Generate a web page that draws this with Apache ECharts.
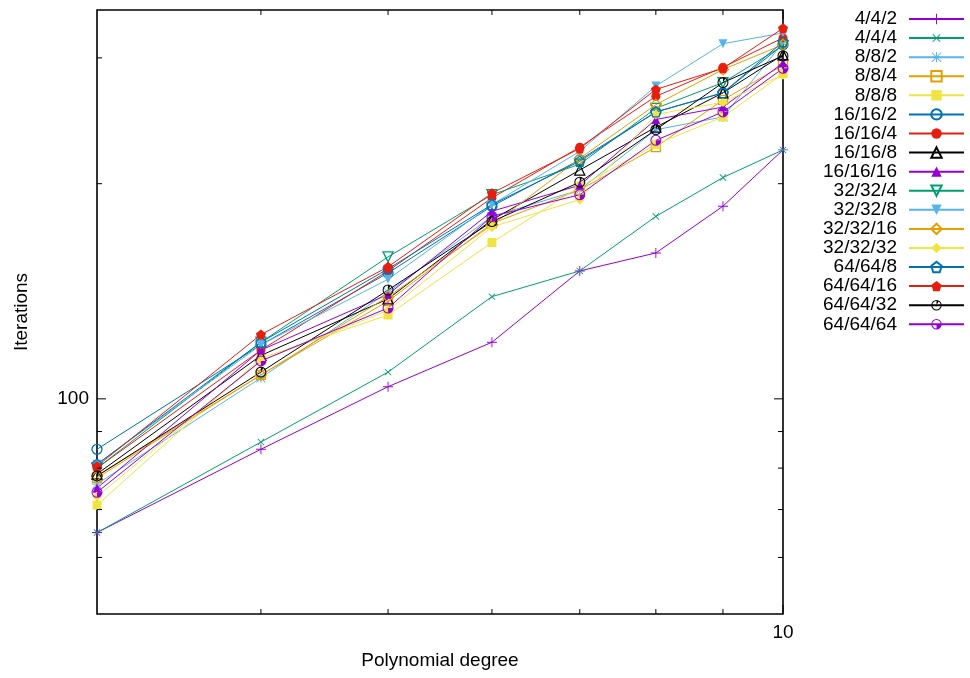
<!DOCTYPE html>
<html>
<head>
<meta charset="utf-8">
<script src="https://cdn.jsdelivr.net/npm/echarts@6/dist/echarts.min.js"></script>
<style>
  html, body { margin: 0; padding: 0; background: #fff; }
  #chart { width: 970px; height: 678px; }
</style>
</head>
<body>
<div id="chart"></div>
<script>
// Polynomial degree on the x axis, iteration counts per configuration
const degrees = [3, 4, 5, 6, 7, 8, 9, 10];

const it_4_4_2    = [65, 85, 104, 120, 151, 160, 186, 223];
const it_4_4_4    = [65, 87, 109, 139, 151, 180, 204, 223];
const it_8_8_2    = [76, 107, 141, 180, 196, 238, 248, 315];
const it_8_8_4    = [77.5, 108, 137, 176, 196, 225, 262, 293];
const it_8_8_8    = [71, 114, 131, 165.5, 198, 227, 248, 285];
const it_16_16_2  = [85, 119, 150, 186, 216, 252, 268, 313];
const it_16_16_4  = [80, 117, 151, 191, 225, 265, 291, 320];
const it_16_16_8  = [78.5, 115, 138, 178, 209, 240, 268, 303];
const it_16_16_16 = [75, 117, 140, 183, 199, 246, 256, 295];
const it_32_32_4  = [80, 120, 158, 193, 213, 255, 277, 312];
const it_32_32_8  = [81, 119, 147, 187, 222, 274, 314, 325];
const it_32_32_16 = [78, 108, 139, 175, 217, 258, 289, 313];
const it_32_32_32 = [73, 113, 133, 174, 190, 250, 260, 284];
const it_64_64_8  = [81, 120, 152, 187, 215, 252, 268, 316];
const it_64_64_16 = [80.5, 123, 153, 194, 224, 271, 290, 330];
const it_64_64_32 = [78, 109, 142, 177, 201, 238, 277, 302];
const it_64_64_64 = [74, 113, 134, 180, 193, 230, 252, 290];

const seriesNames = ['4/4/2', '4/4/4', '8/8/2', '8/8/4', '8/8/8', '16/16/2', '16/16/4', '16/16/8',
  '16/16/16', '32/32/4', '32/32/8', '32/32/16', '32/32/32', '64/64/8', '64/64/16', '64/64/32', '64/64/64'];
const seriesValues = [it_4_4_2, it_4_4_4, it_8_8_2, it_8_8_4, it_8_8_8, it_16_16_2, it_16_16_4, it_16_16_8,
  it_16_16_16, it_32_32_4, it_32_32_8, it_32_32_16, it_32_32_32, it_64_64_8, it_64_64_16, it_64_64_32, it_64_64_64];

// Axis ranges and tick positions (log scales)
const xMin = 3, xMax = 10;
const yMin = 50, yMax = 350;
const xMajorTicks = [10];
const xMinorTicks = [4, 5, 6, 7, 8, 9];
const yMajorTicks = [100];
const yMinorTicks = [60, 70, 80, 90, 200, 300];

// ---- styling ----
const FONT = 'Liberation Sans';
const FONT_SIZE = 19;
const palette = ['#9400d3', '#009e73', '#56b4e9', '#e69f00', '#f0e442', '#0072b2', '#e51e10', '#000000'];

const PLUS = 'path://M5,0h1v5h5v1h-5v5h-1v-5h-5v-1h5z';
const STAR = 'path://M5,0h1v5h5v1h-5v5h-1v-5h-5v-1h5z M0.2,0.9L0.9,0.2L10.8,10.1L10.1,10.8Z M10.1,0.2L10.8,0.9L0.9,10.8L0.2,10.1Z';
const PENTAGON = 'path://M10,0L19.51,6.91L15.88,18.09L4.12,18.09L0.49,6.91Z';
const RING = 'M10,0A10,10 0 1,1 10,20A10,10 0 1,1 10,0Z M10,1.9A8.1,8.1 0 1,0 10,18.1A8.1,8.1 0 1,0 10,1.9Z';
const CIRCLE_TICK = 'path://' + RING + ' M10,10L10,1.9A8.1,8.1 0 0,1 14.05,2.98Z';
const CIRCLE_QUARTER = 'path://' + RING + ' M10,10L18.1,10A8.1,8.1 0 0,1 10,18.1Z';

// marker spec per series: [symbol, filled, rotate, size]
const markers = [
  [PLUS, true, 0, 10],
  [PLUS, true, 45, 9],
  [STAR, true, 0, 10],
  ['rect', false, 0, 9],
  ['rect', true, 0, 9],
  ['circle', false, 0, 10],
  ['circle', true, 0, 9],
  ['triangle', false, 0, 10],
  ['triangle', true, 0, 9],
  ['triangle', false, 180, 10],
  ['triangle', true, 180, 9],
  ['diamond', false, 0, 11],
  ['diamond', true, 0, 10],
  [PENTAGON, false, 0, 10],
  [PENTAGON, true, 0, 10],
  [CIRCLE_TICK, true, 0, 11],
  [CIRCLE_QUARTER, true, 0, 11]
];

const lineSeries = seriesNames.map((name, i) => {
  const col = palette[i % palette.length];
  const [sym, filled, rot, size] = markers[i];
  return {
    name: name,
    type: 'line',
    data: degrees.map((d, k) => [d, seriesValues[i][k]]),
    color: col,
    symbol: sym,
    symbolSize: size,
    symbolRotate: rot,
    showAllSymbol: true,
    lineStyle: { color: col, width: 1 },
    itemStyle: filled
      ? { color: col, borderWidth: 0 }
      : { color: 'none', borderColor: col, borderWidth: 1.3 },
    emphasis: { disabled: true },
    z: 3
  };
});

// tick marks on all four sides of the frame, placed through the axis scales
const tickData = [
  ...yMinorTicks.map(v => [xMin, v, 0]),
  ...yMajorTicks.map(v => [xMin, v, 1]),
  ...xMinorTicks.map(v => [v, yMin, 2]),
  ...xMajorTicks.map(v => [v, yMin, 3])
];

function renderTick(params, api) {
  const kind = api.value(2);
  const p = api.coord([api.value(0), api.value(1)]);
  const r = params.coordSys;
  const len = (kind === 1 || kind === 3) ? 9 : 5;
  const st = { stroke: '#000', lineWidth: 1 };
  if (kind < 2) {
    const y = p[1];
    return {
      type: 'group',
      children: [
        { type: 'line', shape: { x1: r.x, y1: y, x2: r.x + len, y2: y }, style: st },
        { type: 'line', shape: { x1: r.x + r.width - len, y1: y, x2: r.x + r.width, y2: y }, style: st }
      ]
    };
  }
  const x = p[0];
  return {
    type: 'group',
    children: [
      { type: 'line', shape: { x1: x, y1: r.y + r.height, x2: x, y2: r.y + r.height - len }, style: st },
      { type: 'line', shape: { x1: x, y1: r.y, x2: x, y2: r.y + len }, style: st }
    ]
  };
}

const chart = echarts.init(document.getElementById('chart'), null, { renderer: 'canvas' });
chart.setOption({
  animation: false,
  backgroundColor: '#fff',
  textStyle: { fontFamily: FONT },
  grid: {
    left: 97, right: 187, top: 10, bottom: 64,
    show: true, borderColor: '#000', borderWidth: 1.6, backgroundColor: 'transparent'
  },
  xAxis: {
    type: 'log',
    logBase: 10,
    min: xMin,
    max: xMax,
    name: 'Polynomial degree',
    nameLocation: 'middle',
    nameGap: 37,
    nameTextStyle: { fontFamily: FONT, fontSize: FONT_SIZE, color: '#000', verticalAlign: 'top' },
    axisLine: { show: false },
    axisTick: { show: false },
    splitLine: { show: false },
    minorTick: { show: false },
    axisLabel: {
      fontFamily: FONT, fontSize: FONT_SIZE, color: '#000', margin: 9,
      showMinLabel: false,
      formatter: v => (xMajorTicks.some(t => Math.abs(t - v) < 1e-6) ? String(Math.round(v)) : '')
    }
  },
  yAxis: {
    type: 'log',
    logBase: 10,
    min: yMin,
    max: yMax,
    name: 'Iterations',
    nameLocation: 'middle',
    nameGap: 66,
    nameTextStyle: { fontFamily: FONT, fontSize: FONT_SIZE, color: '#000' },
    axisLine: { show: false },
    axisTick: { show: false },
    splitLine: { show: false },
    minorTick: { show: false },
    axisLabel: {
      fontFamily: FONT, fontSize: FONT_SIZE, color: '#000', margin: 8,
      formatter: v => (yMajorTicks.some(t => Math.abs(t - v) < 1e-6) ? String(Math.round(v)) : '')
    }
  },
  legend: {
    data: seriesNames,
    orient: 'vertical',
    right: 5,
    top: 9.5,
    padding: 0,
    align: 'right',
    itemWidth: 55,
    itemHeight: 13,
    itemGap: 0.08,
    selectedMode: false,
    textStyle: { fontFamily: FONT, fontSize: FONT_SIZE, color: '#000', lineHeight: 19, padding: [0, 7, 0, 0] }
  },
  series: [
    ...lineSeries,
    {
      type: 'custom',
      name: 'ticks',
      data: tickData,
      encode: { x: 0, y: 1 },
      renderItem: renderTick,
      silent: true,
      clip: false,
      z: 5
    }
  ]
});
</script>
</body>
</html>
